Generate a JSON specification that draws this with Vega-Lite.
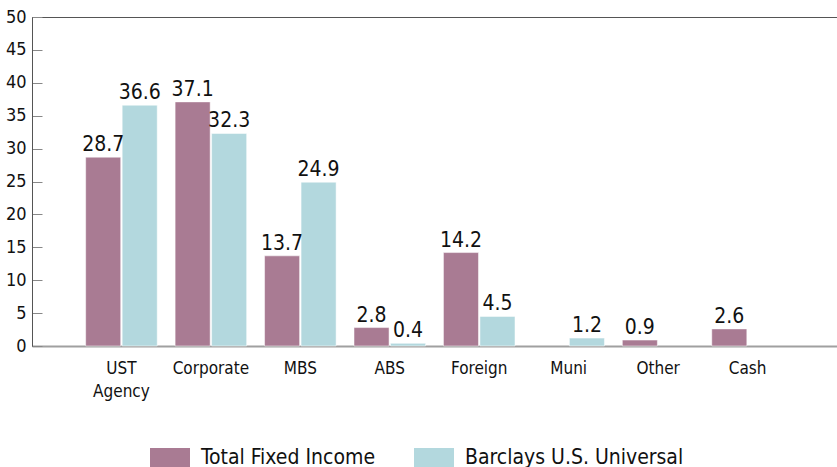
{
  "$schema": "https://vega.github.io/schema/vega-lite/v6.json",
  "autosize": "none",
  "width": 805,
  "height": 329,
  "padding": {"left": 32, "top": 17, "right": 0, "bottom": 121},
  "background": "white",
  "config": {
    "font": "DejaVu Sans Condensed, Liberation Sans, sans-serif",
    "view": {"stroke": "#555555", "strokeWidth": 1}
  },
  "data": {
    "values": [
      {"category": "UST Agency", "series": "Total Fixed Income", "value": 28.7},
      {"category": "UST Agency", "series": "Barclays U.S. Universal", "value": 36.6},
      {"category": "Corporate", "series": "Total Fixed Income", "value": 37.1},
      {"category": "Corporate", "series": "Barclays U.S. Universal", "value": 32.3},
      {"category": "MBS", "series": "Total Fixed Income", "value": 13.7},
      {"category": "MBS", "series": "Barclays U.S. Universal", "value": 24.9},
      {"category": "ABS", "series": "Total Fixed Income", "value": 2.8},
      {"category": "ABS", "series": "Barclays U.S. Universal", "value": 0.4},
      {"category": "Foreign", "series": "Total Fixed Income", "value": 14.2},
      {"category": "Foreign", "series": "Barclays U.S. Universal", "value": 4.5},
      {"category": "Muni", "series": "Total Fixed Income", "value": null},
      {"category": "Muni", "series": "Barclays U.S. Universal", "value": 1.2},
      {"category": "Other", "series": "Total Fixed Income", "value": 0.9},
      {"category": "Other", "series": "Barclays U.S. Universal", "value": null},
      {"category": "Cash", "series": "Total Fixed Income", "value": 2.6},
      {"category": "Cash", "series": "Barclays U.S. Universal", "value": null}
    ]
  },
  "encoding": {
    "x": {
      "field": "category",
      "type": "nominal",
      "sort": null,
      "scale": {"paddingInner": 0.2, "paddingOuter": 0.6},
      "axis": {
        "title": null,
        "labelAngle": 0,
        "labelFontSize": 17,
        "labelColor": "#111111",
        "labelPadding": 14,
        "labelLineHeight": 23,
        "ticks": false,
        "domainColor": "#a0a0a0",
        "domainWidth": 2,
        "labelExpr": "datum.value == 'UST Agency' ? ['UST', 'Agency'] : datum.value"
      }
    },
    "xOffset": {
      "field": "series",
      "type": "nominal",
      "sort": ["Total Fixed Income", "Barclays U.S. Universal"],
      "scale": {"paddingInner": 0.04}
    },
    "y": {
      "field": "value",
      "type": "quantitative",
      "scale": {"domain": [0, 50], "nice": false},
      "axis": {
        "title": null,
        "values": [0, 5, 10, 15, 20, 25, 30, 35, 40, 45, 50],
        "grid": false,
        "labelFontSize": 18,
        "labelColor": "#111111",
        "labelPadding": 16,
        "tickSize": -10,
        "tickColor": "#888888",
        "domainColor": "#555555"
      }
    }
  },
  "layer": [
    {
      "mark": {"type": "bar", "stroke": "#ffffff", "strokeOpacity": 0.5, "strokeWidth": 1},
      "encoding": {
        "color": {
          "field": "series",
          "type": "nominal",
          "sort": ["Total Fixed Income", "Barclays U.S. Universal"],
          "scale": {"domain": ["Total Fixed Income", "Barclays U.S. Universal"], "range": ["#a97b93", "#b3d8de"]},
          "legend": {
            "title": null,
            "orient": "none",
            "direction": "horizontal",
            "legendX": 118,
            "legendY": 421,
            "symbolType": "M-1,-0.5H1V0.5H-1Z",
            "symbolSize": 1600,
            "symbolStrokeWidth": 0,
            "labelFontSize": 21,
            "labelColor": "#111111",
            "labelOffset": 11,
            "columnPadding": 38,
            "labelLimit": 300
          }
        }
      }
    },
    {
      "mark": {"type": "text", "baseline": "bottom", "dy": -2, "fontSize": 21, "color": "#111111"},
      "encoding": {
        "text": {"field": "value", "type": "quantitative", "format": ".1f"}
      },
      "transform": [{"filter": "datum.value != null"}]
    }
  ]
}
